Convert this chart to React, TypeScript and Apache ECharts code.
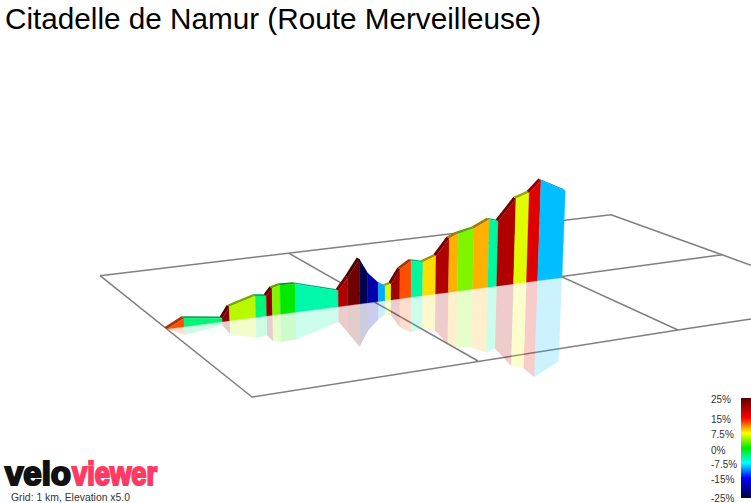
import React, { useEffect, useRef } from "react";
import * as echarts from "echarts";

const TITLE = "Citadelle de Namur (Route Merveilleuse)";
const CAPTION = "Grid: 1 km, Elevation x5.0";

// route stations along the profile
const stationKm = [0, 0.0865, 0.277, 0.3135, 0.444, 0.4985, 0.5275, 0.5675, 0.6435, 0.857, 0.904, 0.962, 1.0035, 1.0565, 1.091, 1.12, 1.164, 1.22, 1.278, 1.3425, 1.407, 1.4515, 1.5285, 1.6035, 1.648, 1.7325, 1.797, 1.853, 1.975];
const elevationM = [80, 88.6, 83.5, 94, 101.5, 100, 107, 109, 108.3, 96, 108, 124.7, 109.6, 98.8, 94.6, 95.9, 109.4, 116.5, 113.4, 118, 134, 137.8, 140.8, 147.8, 144.9, 165.3, 169.6, 180.4, 167];
// gradient (%) of each segment between two stations
const gradePct = [12.7, -3.5, 22.5, 5.4, -3.5, 22, 3.75, 0, -5, 20, 24, -24, -19.4, -10, 6.5, 21, 12.7, -4.7, 8.5, 20, 9.8, 3.75, 9.8, -4.7, 20, 6.6, 17, -9.4];

// colour legend
const legendLabels = ["25%", "15%", "7.5%", "0%", "-7.5%", "-15%", "-25%"];
const legendValues = [25, 15, 7.5, 0, -7.5, -15, -25];
const legendColors = ["#600000", "#ff0000", "#ffff00", "#00ea00", "#00ffff", "#0000ff", "#000040"];
const legendLabelY = [399, 419, 434, 450, 464, 479, 498];

// ground plane polylines, as [km, ground-plane height] vertices
const groundBack = [[-0.335, 133.3], [2.22, 194.3]];
const groundFront = [[-0.335, 133.3], [0.425, 12], [2.555, 79], [2.92, 90]];
const groundCross1 = [[0.61, 155.7], [1.555, 48]];
const groundCross2 = [[1.485, 177], [2.555, 79]];
const groundCross3 = [[2.22, 194.3], [2.775, 154.3], [2.92, 143.7]];
const groundMiddle = [[1.975, 132.5], [2.775, 154.3]];
const groundLines = [groundBack, groundFront, groundCross1, groundCross2, groundCross3, groundMiddle];

const BASE_ELEV = 80;
const TILT = 0.13;
const START_PX = 167;
const VANISH_PX = 370;
const LEAN = 0.0002;
const REFLECT = 0.96;

function gradeColor(v: number): string {
  const c = Math.max(-25, Math.min(25, v));
  for (let i = 0; i < legendValues.length - 1; i++) {
    const hi = legendValues[i];
    const lo = legendValues[i + 1];
    if (c <= hi && c >= lo) {
      return echarts.color.lerp((hi - c) / (hi - lo), [legendColors[i], legendColors[i + 1]]) as string;
    }
  }
  return legendColors[0];
}

function darken(col: string): string {
  return echarts.color.lerp(0.33, [col, "#000000"]) as string;
}

const segmentRows = gradePct.map((g, i) => [stationKm[i], elevationM[i], stationKm[i + 1], elevationM[i + 1], g]);

export default function App() {
  const ref = useRef<HTMLDivElement>(null);
  useEffect(() => {
    document.body.style.margin = "0";
    const chart = echarts.init(ref.current!, undefined, { renderer: "svg" });

    const legendStops = legendValues.map((v, i) => ({
      offset: (25 - v) / 50,
      color: legendColors[i],
    }));

    chart.setOption({
      animation: false,
      backgroundColor: "#ffffff",
      grid: { left: 0, right: 0, top: 0, bottom: 0 },
      xAxis: { type: "value", min: -0.835, max: 2.92, show: false },
      yAxis: { type: "value", min: -94, max: 409, show: false },
      series: [
        {
          type: "custom",
          coordinateSystem: "cartesian2d",
          silent: true,
          clip: false,
          data: groundLines.map((_, i) => [i]),
          renderItem: (params: any, api: any) => {
            const pts = groundLines[params.dataIndex].map((p) => api.coord(p));
            return {
              type: "polyline",
              shape: { points: pts },
              style: { stroke: "#808080", lineWidth: 1.5, fill: "none" },
            };
          },
        },
        {
          type: "custom",
          coordinateSystem: "cartesian2d",
          silent: true,
          clip: false,
          encode: { x: [0, 2], y: [1, 3] },
          data: segmentRows,
          renderItem: (_params: any, api: any) => {
            const project = (km: number, elev: number, mirror: boolean) => {
              const p = api.coord([km, elev]);
              const b = api.coord([km, BASE_ELEV]);
              const h = b[1] - p[1];
              const lean = (b[0] - VANISH_PX) * LEAN * h;
              const baseY = b[1] - TILT * (b[0] - START_PX);
              return mirror
                ? [b[0] - lean, baseY + h * REFLECT]
                : [b[0] + lean, baseY - h];
            };
            const k0 = api.value(0), e0 = api.value(1), k1 = api.value(2), e1 = api.value(3);
            const color = gradeColor(api.value(4));
            const a0 = project(k0, BASE_ELEV, false);
            const a1 = project(k1, BASE_ELEV, false);
            const t0 = project(k0, e0, false);
            const t1 = project(k1, e1, false);
            const m0 = project(k0, e0, true);
            const m1 = project(k1, e1, true);
            const backX = -2.6, backY = -1.8;
            return {
              type: "group",
              children: [
                {
                  type: "polygon",
                  shape: { points: [a0, a1, m1, m0] },
                  style: { fill: color, opacity: 0.2 },
                },
                {
                  type: "polygon",
                  shape: {
                    points: [t0, t1, [t1[0] + backX, t1[1] + backY], [t0[0] + backX, t0[1] + backY]],
                  },
                  style: { fill: darken(color) },
                },
                {
                  type: "polygon",
                  shape: { points: [a0, a1, t1, t0] },
                  style: { fill: color, stroke: color, lineWidth: 0.3 },
                },
              ],
            };
          },
        },
      ],
      graphic: [
        {
          type: "text",
          x: 5,
          y: 3,
          style: { text: TITLE, fontFamily: "Liberation Sans", fontSize: 29.7, fill: "#000000" },
        },
        {
          type: "text",
          x: 5,
          y: 457,
          style: { text: "velo", fontFamily: "Liberation Sans", fontWeight: "bold", fontSize: 33, fill: "#111111", stroke: "#111111", lineWidth: 2.2 },
        },
        {
          type: "text",
          x: 72,
          y: 457,
          scaleX: 0.83,
          style: { text: "viewer", fontFamily: "Liberation Sans", fontWeight: "bold", fontSize: 33, fill: "#ff3b63", stroke: "#ff3b63", lineWidth: 2.2 },
        },
        {
          type: "text",
          x: 11,
          y: 492.5,
          style: { text: CAPTION, fontFamily: "Liberation Sans", fontSize: 10.4, fill: "#333333" },
        },
        {
          type: "rect",
          shape: { x: 741, y: 398, width: 10, height: 100 },
          style: {
            fill: new echarts.graphic.LinearGradient(0, 0, 0, 1, legendStops),
          },
        },
        ...legendLabels.map((t, i) => ({
          type: "text",
          x: 711,
          y: legendLabelY[i] - 5,
          style: { text: t, fontFamily: "Liberation Sans", fontSize: 10, fill: "#333333" },
        })),
      ],
    });
    return () => chart.dispose();
  }, []);
  return <div ref={ref} style={{ width: 751, height: 503 }} />;
}
